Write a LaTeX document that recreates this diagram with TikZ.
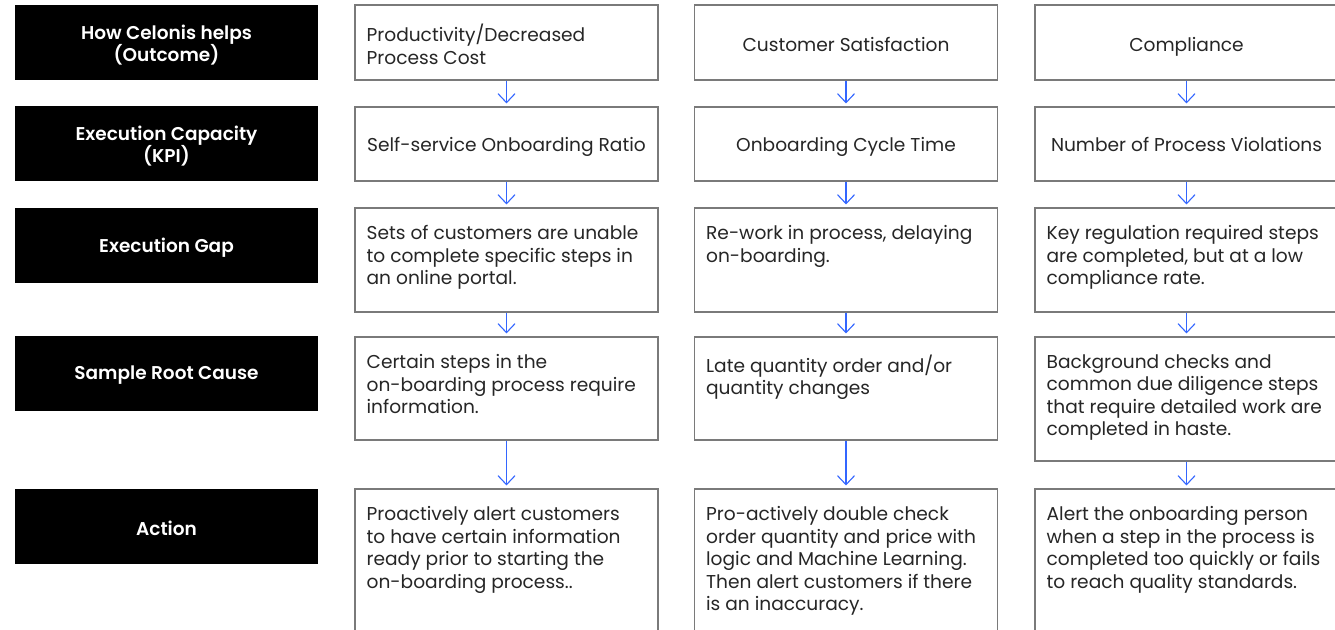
\documentclass[tikz,border=0pt]{standalone}
\usepackage{fontspec}
\setmainfont{Poppins}
\newfontfamily\headfont{Poppins SemiBold}
\usetikzlibrary{positioning, arrows.meta}

\definecolor{boxgray}{HTML}{7A7A7A}
\definecolor{txtgray}{HTML}{262626}
\definecolor{arrblue}{HTML}{3366FF}

\begin{document}
\begin{tikzpicture}[
            x=1pt, y=-1pt,
            head/.style = {rectangle, fill=black, minimum width=303pt, minimum height=75pt, inner sep=0pt},
            headtxt/.style = {inner sep=0pt, align=center, text=white, font=\headfont\fontsize{18.5}{22}\selectfont},
            box/.style = {rectangle, draw=boxgray, line width=1.1pt, minimum width=303pt, inner sep=0pt},
            txt/.style = {inner sep=0pt, align=left, text=txtgray, font=\fontsize{18.6}{22.5}\selectfont},
            arr/.style = {-{Straight Barb[length=9pt,width=17pt]}, draw=arrblue, line width=1.1pt, shorten >=3pt},
        ]

            \useasboundingbox (0,0) rectangle (1335,629);
            \fill[white] (0,0) rectangle (1335,629);

            % Row headers
            \node[head] (h1) at (166.5,42.5) {};
            \node[head] (h2) at (166.5,143.5) {};
            \node[head] (h3) at (166.5,245.5) {};
            \node[head] (h4) at (166.5,373.5) {};
            \node[head] (h5) at (166.5,526.5) {};
            \node[headtxt] (h1t) at ([yshift=-2.5pt]h1.center) {How Celonis helps\\(Outcome)};
            \node[headtxt] (h2t) at ([yshift=-2.5pt]h2.center) {Execution Capacity\\(KPI)};
            \node[headtxt] (h3t) at ([yshift=-2pt]h3.center) {Execution Gap};
            \node[headtxt] (h4t) at ([yshift=-2pt]h4.center) {Sample Root Cause};
            \node[headtxt] (h5t) at ([yshift=-2pt]h5.center) {Action};

            % Outcome
            \node[box, minimum height=75pt] (o1) at (506.5,42.5) {};
            \node[box, minimum height=75pt] (o2) at (846,42.5) {};
            \node[box, minimum height=75pt] (o3) at (1186.5,42.5) {};
            \node[txt, anchor=west] (o1t) at ([xshift=12pt,yshift=-2pt]o1.west) {Productivity/Decreased\\Process Cost};
            \node[txt, anchor=base] (o2t) at ([yshift=-8.5pt]o2.center) {Customer Satisfaction};
            \node[txt, anchor=base] (o3t) at ([yshift=-8.5pt]o3.center) {Compliance};

            % KPI
            \node[box, minimum height=74pt] (k1) at (506.5,144) {};
            \node[box, minimum height=74pt] (k2) at (846,144) {};
            \node[box, minimum height=74pt] (k3) at (1186.5,144) {};
            \node[txt, anchor=base] (k1t) at ([yshift=-7.5pt]k1.center) {Self-service Onboarding Ratio};
            \node[txt, anchor=base] (k2t) at ([yshift=-7.5pt]k2.center) {Onboarding Cycle Time};
            \node[txt, anchor=base] (k3t) at ([yshift=-7.5pt]k3.center) {Number of Process Violations};

            % Execution gap
            \node[box, minimum height=104pt] (g1) at (506.5,260) {};
            \node[box, minimum height=104pt] (g2) at (846,260) {};
            \node[box, minimum height=104pt] (g3) at (1186.5,260) {};
            \node[txt, anchor=north west] (g1t) at ([xshift=12pt,yshift=-18pt]g1.north west) {Sets of customers are unable\\to complete specific steps in\\an online portal.};
            \node[txt, anchor=north west] (g2t) at ([xshift=12pt,yshift=-18pt]g2.north west) {Re-work in process, delaying\\on-boarding.};
            \node[txt, anchor=north west] (g3t) at ([xshift=12pt,yshift=-18pt]g3.north west) {Key regulation required steps\\are completed, but at a low\\compliance rate.};

            % Root cause
            \node[box, minimum height=103pt] (r1) at (506.5,388.5) {};
            \node[box, minimum height=103pt] (r2) at (846,388.5) {};
            \node[box, minimum height=124pt] (r3) at (1186.5,399) {};
            \node[txt, anchor=north west] (r1t) at ([xshift=12pt,yshift=-18pt]r1.north west) {Certain steps in the\\on-boarding process require\\information.};
            \node[txt, anchor=north west] (r2t) at ([xshift=12pt,yshift=-18pt]r2.north west) {Late quantity order and/or\\quantity changes};
            \node[txt, anchor=north west] (r3t) at ([xshift=12pt,yshift=-18pt]r3.north west) {Background checks and\\common due diligence steps\\that require detailed work are\\completed in haste.};

            % Actions
            \node[box, minimum height=170pt] (a1) at (506.5,574) {};
            \node[box, minimum height=170pt] (a2) at (846,574) {};
            \node[box, minimum height=170pt] (a3) at (1186.5,574) {};
            \node[txt, anchor=north west] (a1t) at ([xshift=12pt,yshift=-18pt]a1.north west) {Proactively alert customers\\to have certain information\\ready prior to starting the\\on-boarding process..};
            \node[txt, anchor=north west] (a2t) at ([xshift=12pt,yshift=-18pt]a2.north west) {Pro-actively double check\\order quantity and price with\\logic and Machine Learning.\\Then alert customers if there\\is an inaccuracy.};
            \node[txt, anchor=north west] (a3t) at ([xshift=12pt,yshift=-18pt]a3.north west) {Alert the onboarding person\\when a step in the process is\\completed too quickly or fails\\to reach quality standards.};

            % Arrows
            \draw[arr] (o1) -- (k1);
            \draw[arr] (o2) -- (k2);
            \draw[arr] (o3) -- (k3);
            \draw[arr] (k1) -- (g1);
            \draw[arr] (k2) -- (g2);
            \draw[arr] (k3) -- (g3);
            \draw[arr] (g1) -- (r1);
            \draw[arr] (g2) -- (r2);
            \draw[arr] (g3) -- (r3);
            \draw[arr] (r1) -- (a1);
            \draw[arr] (r2) -- (a2);
            \draw[arr] (r3) -- (a3);

        \end{tikzpicture}
\end{document}
